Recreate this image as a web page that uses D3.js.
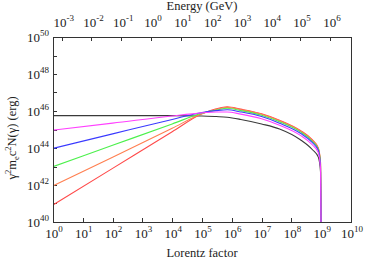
<!DOCTYPE html>
<html>
<head>
<meta charset="utf-8">
<script src="https://cdn.jsdelivr.net/npm/d3@7"></script>
<style>
  body { margin: 0; background: #fff; }
  svg text { font-family: "Liberation Serif", "Times New Roman", serif; fill: #222; }
</style>
</head>
<body>
<svg id="chart" width="374" height="262"></svg>
<script>
// Lorentz factor grid shared by all curves
var gammas = [1, 1e2, 1e4, 1e5, 3e5, 7e5, 2e6, 1e7, 4e7, 2e8, 5e8, 8e8, 9.5e8, 1e9];

// gamma^2 m_e c^2 N(gamma) in erg
var redVals     = [8.3e40, 7.9e42, 7.6e44, 7.1e45, 1.32e46, 1.7e46, 1.26e46, 7.1e45, 3.2e45, 8.9e44, 2.8e44, 1.0e44, 1.6e43, 1e39];
var orangeVals  = [8.9e41, 3.2e43, 1.17e45, 7.1e45, 1.2e46, 1.58e46, 1.17e46, 6.6e45, 2.95e45, 8.3e44, 2.6e44, 9.3e43, 1.6e43, 1e39];
var greenVals   = [9.8e42, 1.4e44, 2.0e45, 7.6e45, 1.12e46, 1.41e46, 1.05e46, 5.9e45, 2.6e45, 7.4e44, 2.3e44, 8.5e43, 1.26e43, 1e39];
var blueVals    = [9.5e43, 5.8e44, 3.5e45, 8.3e45, 1.05e46, 1.17e46, 8.9e45, 5.0e45, 2.2e45, 6.3e44, 2.0e44, 7.4e43, 1.0e43, 1e39];
var magentaVals = [9.3e44, 2.2e45, 5.4e45, 7.9e45, 8.9e45, 8.9e45, 6.8e45, 3.8e45, 1.7e45, 4.8e44, 1.5e44, 5.6e43, 7.9e42, 1e39];
var blackVals   = [5.6e45, 5.6e45, 5.6e45, 5.4e45, 5.0e45, 4.6e45, 3.5e45, 2.0e45, 1.07e45, 2.8e44, 8.3e43, 3.2e43, 5.0e42, 1e39];

var seriesNames  = ["black", "red", "orange", "green", "blue", "magenta"];
var seriesVals   = [blackVals, redVals, orangeVals, greenVals, blueVals, magentaVals];
var seriesColors = ["#3a3a3a", "#ff4a4a", "#ff7f50", "#4cf04c", "#3a3aff", "#ff40ff"];

var xTickExps = [0, 1, 2, 3, 4, 5, 6, 7, 8, 9, 10];
var yTickExps = [40, 41, 42, 43, 44, 45, 46, 47, 48, 49, 50];
var yLabelExps = [40, 42, 44, 46, 48, 50];
var eTickExps = [-3, -2, -1, 0, 1, 2, 3, 4, 5, 6];

var mec2 = 0.000511; // GeV

(function() {
    var pl = 53, pr = 351, pt = 37, pb = 222;

    var svg = d3.select("#chart");

    var x = d3.scaleLog().domain([1, 1e10]).range([pl, pr]);
    var y = d3.scaleLog().domain([1e40, 1e50]).range([pb, pt]);
    var xE = d3.scaleLog().domain([mec2, mec2 * 1e10]).range([pl, pr]);

    svg.append("clipPath").attr("id", "clip")
        .append("rect")
        .attr("x", pl).attr("y", pt)
        .attr("width", pr - pl).attr("height", pb - pt);

    // ticks
    var tickLen = 4;
    var axisG = svg.append("g").attr("stroke", "#333").attr("stroke-width", 1);

    xTickExps.forEach(function(e) {
        var px = Math.round(x(Math.pow(10, e))) + 0.5;
        axisG.append("line").attr("x1", px).attr("x2", px)
            .attr("y1", pb).attr("y2", pb - tickLen);
    });
    yTickExps.forEach(function(e) {
        var py = Math.round(y(Math.pow(10, e))) + 0.5;
        axisG.append("line").attr("x1", pl).attr("x2", pl + tickLen)
            .attr("y1", py).attr("y2", py);
    });
    eTickExps.forEach(function(e) {
        var px = Math.round(xE(Math.pow(10, e))) + 0.5;
        axisG.append("line").attr("x1", px).attr("x2", px)
            .attr("y1", pt).attr("y2", pt + tickLen);
    });

    // curves
    var line = d3.line()
        .x(function(d) { return x(d[0]); })
        .y(function(d) { return y(d[1]); })
        .curve(d3.curveMonotoneX);

    var curves = svg.append("g").attr("clip-path", "url(#clip)");
    seriesVals.forEach(function(vals, i) {
        var pts = gammas.map(function(g, j) { return [g, vals[j]]; });
        curves.append("path")
            .attr("class", "curve " + seriesNames[i])
            .attr("d", line(pts))
            .attr("fill", "none")
            .attr("stroke", seriesColors[i])
            .attr("stroke-width", 1.1);
    });

    // frame
    svg.append("rect")
        .attr("x", pl + 0.5).attr("y", pt + 0.5)
        .attr("width", pr - pl).attr("height", pb - pt)
        .attr("fill", "none").attr("stroke", "#333").attr("stroke-width", 1);

    // power-of-ten labels
    function powLabel(g, px, py, exp, anchor) {
        var t = g.append("text")
            .attr("x", px).attr("y", py)
            .attr("text-anchor", anchor)
            .attr("font-size", 13);
        t.append("tspan").text("10");
        t.append("tspan").attr("font-size", 9).attr("dy", -6).text(exp);
        return t;
    }

    var labels = svg.append("g");
    xTickExps.forEach(function(e) {
        powLabel(labels, x(Math.pow(10, e)) + 1, 238, String(e), "middle");
    });
    yLabelExps.forEach(function(e) {
        powLabel(labels, 49, y(Math.pow(10, e)) + 5, String(e), "end");
    });
    eTickExps.forEach(function(e) {
        powLabel(labels, xE(Math.pow(10, e)) + 2, 27, String(e), "middle");
    });

    // axis titles
    svg.append("text")
        .attr("x", (pl + pr) / 2).attr("y", 257)
        .attr("text-anchor", "middle").attr("font-size", 12.5)
        .text("Lorentz factor");

    svg.append("text")
        .attr("x", (pl + pr) / 2).attr("y", 10)
        .attr("text-anchor", "middle").attr("font-size", 12.5)
        .text("Energy (GeV)");

    var yt = svg.append("text")
        .attr("transform", "translate(16,138)rotate(-90)")
        .attr("text-anchor", "middle").attr("font-size", 12.5);
    yt.append("tspan").text("γ");
    yt.append("tspan").attr("font-size", 8.5).attr("dy", -5).text("2");
    yt.append("tspan").attr("dy", 5).text("m");
    yt.append("tspan").attr("font-size", 8.5).attr("dy", 3).text("e");
    yt.append("tspan").attr("dy", -3).text("c");
    yt.append("tspan").attr("font-size", 8.5).attr("dy", -5).text("2");
    yt.append("tspan").attr("dy", 5).text("N(γ) (erg)");
})();
</script>
</body>
</html>
